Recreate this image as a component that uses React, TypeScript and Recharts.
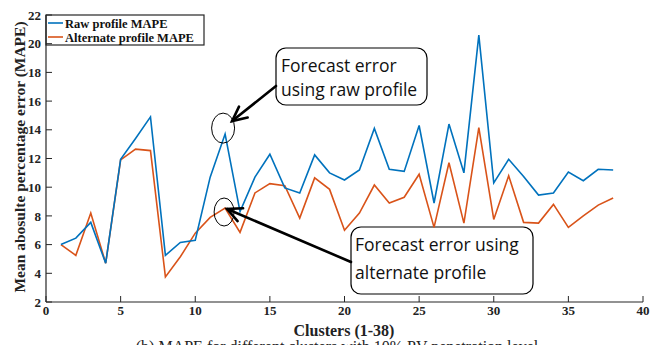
import React from 'react';
import { LineChart, Line, XAxis, YAxis, ReferenceDot } from 'recharts';

const clusters = [1, 2, 3, 4, 5, 6, 7, 8, 9, 10, 11, 12, 13, 14, 15, 16, 17, 18, 19, 20, 21, 22, 23, 24, 25, 26, 27, 28, 29, 30, 31, 32, 33, 34, 35, 36, 37, 38];
const rawMape = [6.0, 6.45, 7.55, 4.7, 11.95, 13.4, 14.9, 5.25, 6.15, 6.3, 10.7, 13.7, 8.3, 10.7, 12.3, 9.95, 9.6, 12.25, 11.0, 10.5, 11.2, 14.1, 11.25, 11.1, 14.3, 8.9, 14.4, 11.0, 20.6, 10.3, 11.95, 10.75, 9.45, 9.6, 11.05, 10.45, 11.25, 11.2];
const altMape = [6.0, 5.25, 8.2, 4.7, 11.9, 12.65, 12.55, 3.75, 5.15, 6.8, 7.9, 8.55, 6.85, 9.6, 10.25, 10.1, 7.85, 10.65, 9.85, 7.0, 8.2, 10.15, 8.9, 9.3, 10.9, 7.2, 11.7, 7.5, 14.15, 7.75, 10.8, 7.55, 7.5, 8.8, 7.2, 8.0, 8.75, 9.25];
const xTicks = [0, 5, 10, 15, 20, 25, 30, 35, 40];
const yTicks = [2, 4, 6, 8, 10, 12, 14, 16, 18, 20, 22];

const seriesNames = ['Raw profile MAPE', 'Alternate profile MAPE'];
const BLUE = '#0072BD';
const ORANGE = '#D95319';
const AXIS = '#262626';
const SERIF = '"Liberation Serif", "Times New Roman", serif';
const CALLOUT = '"Open Sans", "Noto Sans", sans-serif';

const data = clusters.map((c, i) => ({ cluster: c, raw: rawMape[i], alt: altMape[i] }));

const tickStyle = { fill: '#222', fontSize: 13, fontWeight: 700, fontFamily: SERIF };

// open V arrow head, tip at (tx,ty), coming from (fx,fy)
const Arrow = ({ fx, fy, tx, ty }: any) => {
  const ang = Math.atan2(ty - fy, tx - fx);
  const len = 16;
  const spread = 0.45;
  const w1 = [tx - len * Math.cos(ang - spread), ty - len * Math.sin(ang - spread)];
  const w2 = [tx - len * Math.cos(ang + spread), ty - len * Math.sin(ang + spread)];
  return (
    <g stroke="#000" strokeWidth={2.6} fill="none" strokeLinecap="round">
      <line x1={fx} y1={fy} x2={tx} y2={ty} />
      <polyline points={`${w1[0]},${w1[1]} ${tx},${ty} ${w2[0]},${w2[1]}`} />
    </g>
  );
};

const RawCallout = ({ cx, cy }: any) => {
  const ex = cx - 2;
  const ey = cy - 6;
  return (
    <g>
      <ellipse cx={ex} cy={ey} rx={11.5} ry={15} fill="none" stroke="#000" strokeWidth={1} />
      <Arrow fx={276} fy={86} tx={ex + 9} ty={ey - 7} />
    </g>
  );
};

const AltCallout = ({ cx, cy }: any) => {
  const ex = cx - 1;
  const ey = cy + 4;
  return (
    <g>
      <ellipse cx={ex} cy={ey} rx={10} ry={14} fill="none" stroke="#000" strokeWidth={1} />
      <Arrow fx={351} fy={262} tx={ex + 3} ty={ey - 3} />
    </g>
  );
};

export default function App() {
  return (
    <div style={{ position: 'absolute', left: 0, top: 0, width: 650, height: 345, background: '#fff', overflow: 'hidden' }}>
      <LineChart width={650} height={345} data={data} margin={{ top: 15, right: 7, bottom: 0, left: 0 }}>
        <XAxis
          dataKey="cluster"
          type="number"
          domain={[0, 40]}
          ticks={xTicks}
          height={43}
          interval={0}
          tickSize={-6}
          tickMargin={10}
          tick={tickStyle}
          axisLine={{ stroke: AXIS, strokeWidth: 1.2 }}
          tickLine={{ stroke: AXIS }}
        />
        <XAxis
          xAxisId="top"
          orientation="top"
          dataKey="cluster"
          type="number"
          domain={[0, 40]}
          ticks={xTicks}
          height={0}
          interval={0}
          tickSize={-6}
          tick={false}
          axisLine={{ stroke: AXIS, strokeWidth: 1.2 }}
          tickLine={{ stroke: AXIS }}
        />
        <YAxis
          type="number"
          domain={[2, 22]}
          ticks={yTicks}
          width={46}
          interval={0}
          tickSize={-6}
          tickMargin={11}
          tick={tickStyle}
          axisLine={{ stroke: AXIS, strokeWidth: 1.2 }}
          tickLine={{ stroke: AXIS }}
        />
        <YAxis
          yAxisId="right"
          orientation="right"
          type="number"
          domain={[2, 22]}
          ticks={yTicks}
          width={0}
          interval={0}
          tickSize={-6}
          tick={false}
          axisLine={{ stroke: AXIS, strokeWidth: 1.2 }}
          tickLine={{ stroke: AXIS }}
        />
        <Line dataKey="alt" name={seriesNames[1]} stroke={ORANGE} strokeWidth={1.6} dot={false} isAnimationActive={false} />
        <Line dataKey="raw" name={seriesNames[0]} stroke={BLUE} strokeWidth={1.6} dot={false} isAnimationActive={false} />
        <ReferenceDot x={clusters[11]} y={rawMape[11]} shape={<RawCallout />} />
        <ReferenceDot x={clusters[11]} y={altMape[11]} shape={<AltCallout />} />

        {/* legend */}
        <g fontFamily={SERIF} fontWeight={700} fontSize={12.5} fill="#111">
          <rect x={46} y={15} width={158} height={30} fill="#fff" stroke={AXIS} strokeWidth={1.2} />
          <line x1={48} x2={63} y1={23} y2={23} stroke={BLUE} strokeWidth={1.6} />
          <text x={65} y={27.5}>{seriesNames[0]}</text>
          <line x1={48} x2={63} y1={37} y2={37} stroke={ORANGE} strokeWidth={1.6} />
          <text x={65} y={41.5}>{seriesNames[1]}</text>
        </g>

        <text x={25} y={157} transform="rotate(-90, 25, 157)" textAnchor="middle" fontFamily={SERIF} fontWeight={700} fontSize={15.5} fill="#222">
          Mean abosulte percentage error (MAPE)
        </text>
        <text x={344} y={336} textAnchor="middle" fontFamily={SERIF} fontWeight={700} fontSize={16} fill="#222">
          Clusters (1-38)
        </text>
        <text x={337} y={352} textAnchor="middle" fontFamily={SERIF} fontSize={16} fill="#222">
          (b) MAPE for different clusters with 10% PV penetration level
        </text>
        <g fontFamily={CALLOUT} fontSize={17.5} fill="#111">
          <rect x={276} y={48} width={151} height={57} rx={10} fill="#fff" stroke="#000" strokeWidth={1.2} />
          <text x={281} y={72}>Forecast error</text>
          <text x={281} y={96}>using raw profile</text>
          <rect x={351} y={227} width={182} height={67} rx={10} fill="#fff" stroke="#000" strokeWidth={1.2} />
          <text x={355} y={251}>Forecast error using</text>
          <text x={355} y={279}>alternate profile</text>
        </g>
      </LineChart>
    </div>
  );
}
